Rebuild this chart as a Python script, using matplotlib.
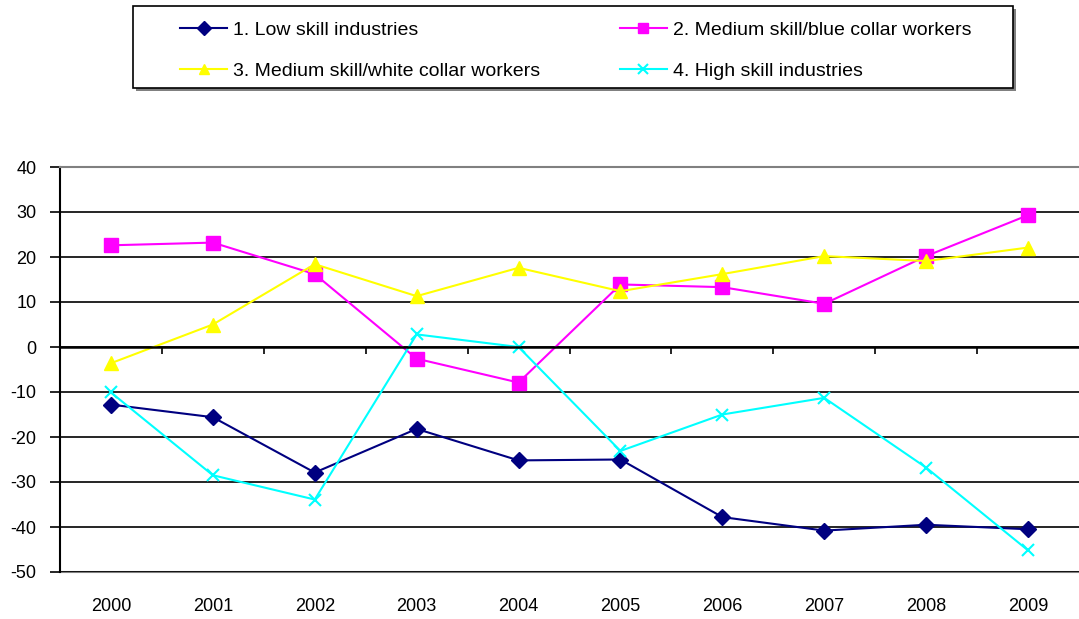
import matplotlib
matplotlib.use("Agg")
import matplotlib.pyplot as plt
from matplotlib.patches import Rectangle

plt.rcParams['font.family'] = ['Liberation Sans', 'DejaVu Sans']
plt.rcParams['axes.unicode_minus'] = False

# Podatki odčitani s slike
leta = ["2000", "2001", "2002", "2003", "2004", "2005", "2006", "2007", "2008", "2009"]
nizka = [-12.8, -15.6, -27.9, -18.2, -25.2, -25.0, -37.8, -40.8, -39.5, -40.5]
srednja_modri = [22.6, 23.2, 16.2, -2.6, -7.9, 13.9, 13.3, 9.6, 20.2, 29.3]
srednja_beli = [-3.6, 5.0, 18.4, 11.3, 17.6, 12.4, 16.2, 20.2, 19.1, 22.1]
visoka = [-10.1, -28.5, -33.9, 2.8, 0.0, -23.1, -15.0, -11.3, -26.8, -45.2]
imena = ["1. Low skill industries", "2. Medium skill/blue collar workers",
         "3. Medium skill/white collar workers", "4. High skill industries"]

W, H = 1079, 619
fig = plt.figure(figsize=(W / 100, H / 100), dpi=100)
ax = fig.add_axes([60 / W, (H - 572) / H, 1019 / W, 405 / H])

x = list(range(len(leta)))
l1, = ax.plot(x, nizka, color="#000080", lw=1.5, marker="D", ms=8, label=imena[0])
l2, = ax.plot(x, srednja_modri, color="#FF00FF", lw=1.5, marker="s", ms=10, label=imena[1])
l3, = ax.plot(x, srednja_beli, color="#FFFF00", lw=1.5, marker="^", ms=10, label=imena[2])
l4, = ax.plot(x, visoka, color="#00FFFF", lw=1.5, marker="x", ms=9, mew=1.5, label=imena[3])

ax.set_xlim(-0.5, len(leta) - 0.5)
ax.set_ylim(-50, 40)
ax.set_yticks(range(-50, 41, 10))
ax.yaxis.grid(True, color="black", lw=1.2)
ax.set_axisbelow(True)
ax.tick_params(axis="y", direction="out", length=7, width=1.2, labelsize=13, pad=10)

# x os na ničli s kljukicami med kategorijami
ax.spines["bottom"].set_position(("data", 0))
ax.spines["bottom"].set_linewidth(1.8)
ax.set_xticks(x)
ax.set_xticks([i + 0.5 for i in x[:-1]], minor=True)
ax.tick_params(axis="x", which="major", length=0, labelbottom=False)
ax.tick_params(axis="x", which="minor", direction="out", length=5, width=1.2)

sek = ax.secondary_xaxis("bottom")
sek.set_xticks(x, leta)
sek.tick_params(length=0, labelsize=13, pad=19)
sek.spines["bottom"].set_color("#808080")
sek.spines["bottom"].set_linewidth(1.5)

ax.spines["left"].set_linewidth(1.5)
ax.spines["top"].set_color("#808080")
ax.spines["top"].set_linewidth(1.5)
ax.spines["right"].set_visible(False)

# okvir legende s senco
fig.patches.append(Rectangle((136 / W, 1 - 91 / H), 880 / W, 82 / H, transform=fig.transFigure,
                             facecolor="#808080", edgecolor="none", zorder=0))
fig.patches.append(Rectangle((133 / W, 1 - 88 / H), 880 / W, 82 / H, transform=fig.transFigure,
                             facecolor="white", edgecolor="black", lw=1.2, zorder=1))

leg = fig.legend([l1, l3, l2, l4], [imena[0], imena[2], imena[1], imena[3]],
                 ncol=2, loc="upper left", bbox_to_anchor=(180 / W, 1 - 21.5 / H),
                 fontsize=14, frameon=False, handlelength=2.42,
                 handletextpad=0.3, labelspacing=1.2, columnspacing=4.1,
                 borderpad=0, borderaxespad=0)
for h in leg.legend_handles:
    h.set_markersize(7)

fig.savefig("out.png", dpi=100)
